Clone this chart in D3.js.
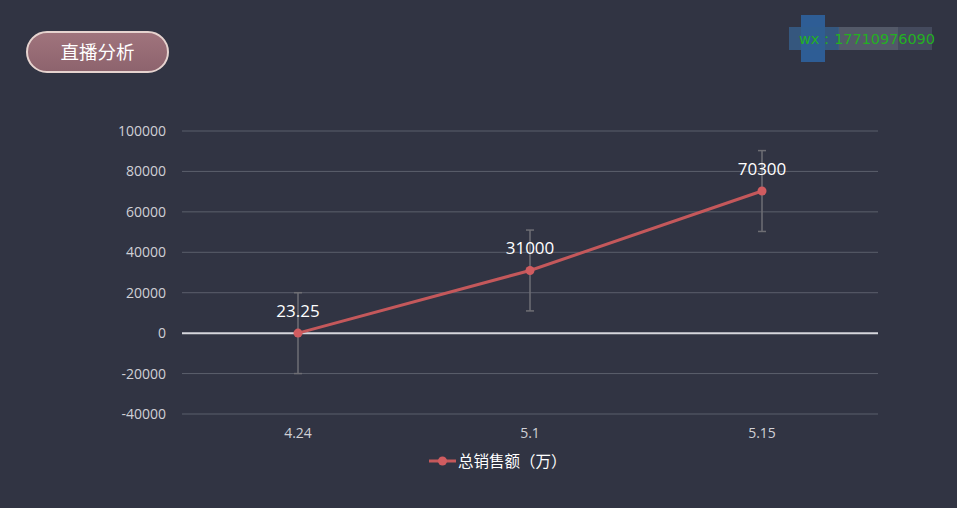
<!DOCTYPE html>
<html><head><meta charset="utf-8">
<script src="https://cdn.jsdelivr.net/npm/d3@7/dist/d3.min.js"></script>
<style>
html,body{margin:0;padding:0;background:#313443;}
svg{display:block;font-family:"Noto Sans CJK SC","Noto Sans",sans-serif;}
</style></head><body>
<svg id="c" width="957" height="508"></svg>
<script>
const categories = ["4.24","5.1","5.15"];
const values = [23.25, 31000, 70300];
const errLow = [-20000, 11000, 50300];
const errHigh = [20000, 51000, 90300];
const yTicks = [-40000,-20000,0,20000,40000,60000,80000,100000];
const seriesName = "总销售额（万）";
const title = "直播分析";
const watermark = "wx：17710976090";

const svg = d3.select("#c");
svg.append("rect").attr("width",957).attr("height",508).attr("fill","#313443");

// title pill
const defs = svg.append("defs");
const g = defs.append("linearGradient").attr("id","pg").attr("x1",0).attr("y1",0).attr("x2",0).attr("y2",1);
g.append("stop").attr("offset","0%").attr("stop-color","#a0747d");
g.append("stop").attr("offset","100%").attr("stop-color","#8d636d");
svg.append("rect").attr("x",27).attr("y",32).attr("width",141).attr("height",40).attr("rx",20)
  .attr("fill","url(#pg)").attr("stroke","#e6d3cf").attr("stroke-width",2);
svg.append("text").attr("x",97.5).attr("y",59).attr("text-anchor","middle").attr("fill","#fff")
  .attr("font-size",18.5).text(title);

// watermark
svg.append("rect").attr("x",789).attr("y",27).attr("width",143).attr("height",23).attr("fill","#4a5064").attr("opacity",0.8);
svg.append("rect").attr("x",838).attr("y",27).attr("width",60).attr("height",23).attr("fill","#5a5f6e").attr("opacity",0.7);
svg.append("rect").attr("x",801).attr("y",15).attr("width",24).attr("height",47).attr("fill","#2e65a3").attr("opacity",0.85);
svg.append("rect").attr("x",789).attr("y",27).attr("width",50).attr("height",23).attr("fill","#2f5c8d").attr("opacity",0.7);
svg.append("text").attr("x",799).attr("y",44).attr("fill","#23b023").attr("font-size",14.5)
  .attr("textLength",136).attr("font-family","DejaVu Sans, sans-serif").text(watermark);

const x = d3.scaleBand().domain(categories).range([182,878]);
const y = d3.scaleLinear().domain([-40000,100000]).range([414,131]);

// grid
svg.append("g").selectAll("line").data(yTicks.filter(d=>d!==0)).join("line")
  .attr("x1",182).attr("x2",878).attr("y1",d=>y(d)).attr("y2",d=>y(d))
  .attr("stroke","#5b5f6c").attr("stroke-width",1);
svg.append("line").attr("x1",182).attr("x2",878).attr("y1",y(0)).attr("y2",y(0))
  .attr("stroke","#d6d6dc").attr("stroke-width",2);

// y axis labels
const ya = svg.append("g").attr("transform","translate(182,0)")
  .call(d3.axisLeft(y).tickValues(yTicks).tickSize(0).tickPadding(16).tickFormat(d=>String(d)));
ya.select(".domain").remove();
ya.selectAll("text").attr("fill","#d0d0d6").attr("font-size",14).attr("font-family","Open Sans, Noto Sans, sans-serif");

// x axis labels
const xa = svg.append("g").attr("transform","translate(0,414)")
  .call(d3.axisBottom(x).tickSize(0).tickPadding(14));
xa.select(".domain").remove();
xa.selectAll("text").attr("fill","#d0d0d6").attr("font-size",14).attr("font-family","Open Sans, Noto Sans, sans-serif");

const cx = d => x(d)+x.bandwidth()/2;

// error bars
const eb = svg.append("g").attr("stroke","#6e6e74").attr("stroke-width",1.5);
categories.forEach((c,i)=>{
  eb.append("line").attr("x1",cx(c)).attr("x2",cx(c)).attr("y1",y(errLow[i])).attr("y2",y(errHigh[i]));
  eb.append("line").attr("x1",cx(c)-4).attr("x2",cx(c)+4).attr("y1",y(errLow[i])).attr("y2",y(errLow[i]));
  eb.append("line").attr("x1",cx(c)-4).attr("x2",cx(c)+4).attr("y1",y(errHigh[i])).attr("y2",y(errHigh[i]));
});

// line
const data = categories.map((c,i)=>({c,v:values[i]}));
svg.append("path").datum(data).attr("fill","none").attr("stroke","#c4585b").attr("stroke-width",3)
  .attr("d",d3.line().x(d=>cx(d.c)).y(d=>y(d.v)));
svg.append("g").selectAll("circle").data(data).join("circle")
  .attr("cx",d=>cx(d.c)).attr("cy",d=>y(d.v)).attr("r",4.5).attr("fill","#d05c60");
svg.append("g").selectAll("text").data(data).join("text")
  .attr("x",d=>cx(d.c)).attr("y",d=>y(d.v)-16).attr("text-anchor","middle")
  .attr("fill","#fff").attr("font-size",17).attr("font-family","Open Sans, Noto Sans, sans-serif")
  .text(d=>String(d.v));

// legend
svg.append("line").attr("x1",429).attr("x2",456).attr("y1",461).attr("y2",461).attr("stroke","#c4585b").attr("stroke-width",3);
svg.append("circle").attr("cx",442.5).attr("cy",461).attr("r",4.5).attr("fill","#d05c60");
svg.append("text").attr("x",458).attr("y",467).attr("fill","#fff").attr("font-size",15.5).text(seriesName);
</script>
</body></html>
